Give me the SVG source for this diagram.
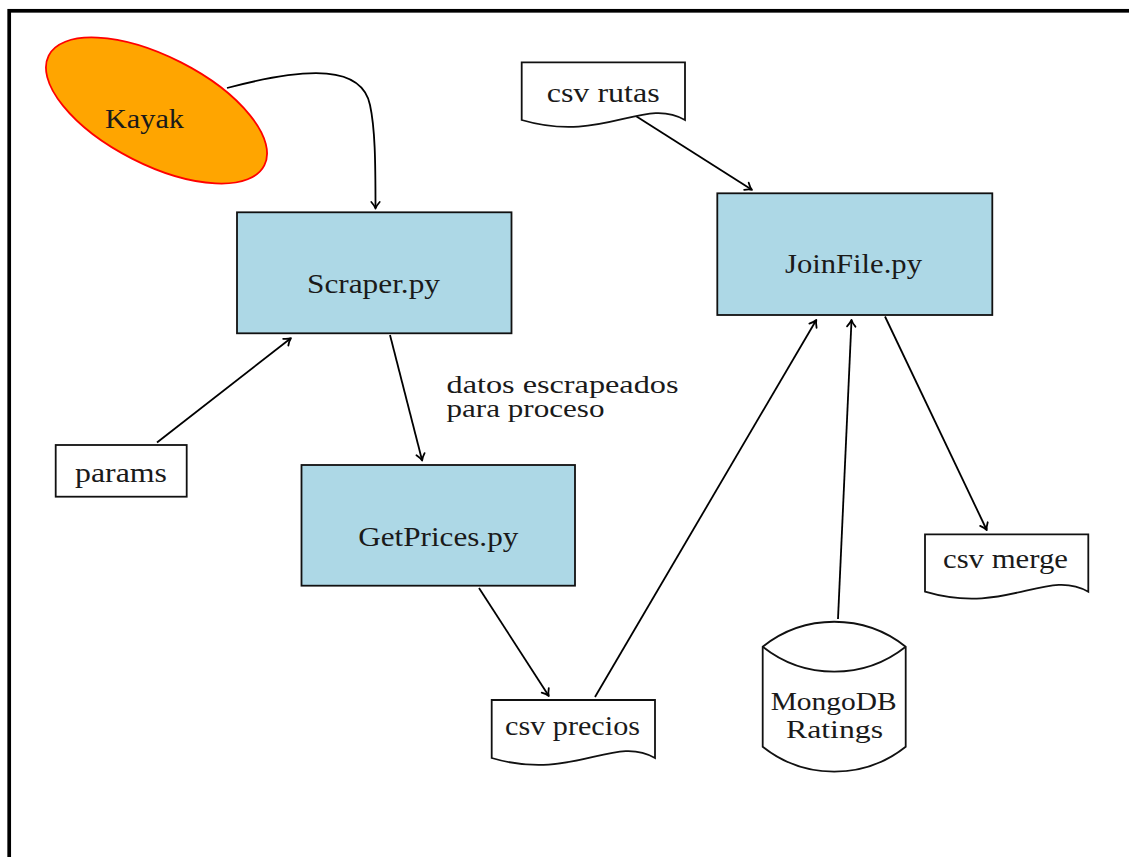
<svg xmlns="http://www.w3.org/2000/svg" width="1129" height="857" viewBox="0 0 1129 857">
  <style>
    .lbl { font-family: "Liberation Serif", "DejaVu Serif", serif; font-size: 28px; fill: #1a1a1a; }
    .lbl2 { font-size: 26px; }
    .proc { fill: #ADD8E6; stroke: #111; stroke-width: 1.8; }
    .doc { fill: #fff; stroke: #111; stroke-width: 1.8; stroke-linejoin: miter; }
    .edge { fill: none; stroke: #000; stroke-width: 1.8; marker-end: url(#arrow); }
  </style>
  <defs>
    <marker id="arrow" markerUnits="userSpaceOnUse" markerWidth="14" markerHeight="14" refX="0" refY="0" viewBox="-8 -7 10 14" orient="auto" overflow="visible">
      <path d="M -6,-4.2 Q -2.2,-0.8 0.6,0 Q -2.2,0.8 -6,4.2" fill="none" stroke="#000" stroke-width="1.8" stroke-linecap="round" stroke-linejoin="round"/>
    </marker>
  </defs>

  <rect width="1129" height="857" fill="#fff"/>
  <!-- outer frame -->
  <rect x="9.2" y="10.8" width="1300" height="1000" fill="none" stroke="#000" stroke-width="3.7"/>

  <!-- connectors -->
  <g id="connectors">
    <path class="edge" d="M227,88 C310,66 362,66 370,105 C375,128 375.5,160 375.5,208"/>
    <path class="edge" d="M157,442.5 L290.5,338.5"/>
    <path class="edge" d="M390,335 L422,460"/>
    <path class="edge" d="M479,588 L548.5,695.5"/>
    <path class="edge" d="M595,697 L816,320.5"/>
    <path class="edge" d="M838,619 L851.5,320.5"/>
    <path class="edge" d="M885,316.5 L986.5,529.5"/>
    <path class="edge" d="M635,115.5 L751.5,189.5"/>
    <text class="lbl lbl2" x="446.5" y="393" textLength="232" lengthAdjust="spacingAndGlyphs">datos escrapeados</text>
    <text class="lbl lbl2" x="446.5" y="417" textLength="158" lengthAdjust="spacingAndGlyphs">para proceso</text>
  </g>

  <g id="kayak">
    <ellipse cx="156.5" cy="110.5" rx="121" ry="54" transform="rotate(27 156.5 110.5)" fill="#FFA500" stroke="#FF0000" stroke-width="1.8"/>
    <text class="lbl" x="105" y="127.7" textLength="79" lengthAdjust="spacingAndGlyphs">Kayak</text>
  </g>

  <g id="scraper">
    <rect class="proc" x="237" y="212.3" width="274.5" height="121"/>
    <text class="lbl" x="307" y="292.7" textLength="133" lengthAdjust="spacingAndGlyphs">Scraper.py</text>
  </g>

  <g id="getprices">
    <rect class="proc" x="301.5" y="465" width="273.5" height="120.7"/>
    <text class="lbl" x="358.3" y="545.7" textLength="160" lengthAdjust="spacingAndGlyphs">GetPrices.py</text>
  </g>

  <g id="joinfile">
    <rect class="proc" x="717.3" y="193.3" width="275" height="121.7"/>
    <text class="lbl" x="785" y="273.3" textLength="137" lengthAdjust="spacingAndGlyphs">JoinFile.py</text>
  </g>

  <g id="params">
    <rect class="doc" x="55.7" y="445" width="131" height="51.7"/>
    <text class="lbl" x="75" y="481.7" textLength="92" lengthAdjust="spacingAndGlyphs">params</text>
  </g>

  <g id="csv-rutas">
    <path class="doc" d="M521.7,62.3 H685 V120 C644,96 603,144 521.7,120 Z"/>
    <text class="lbl" x="546.7" y="101.7" textLength="113" lengthAdjust="spacingAndGlyphs">csv rutas</text>
  </g>

  <g id="csv-precios">
    <path class="doc" d="M491.7,700 H655 V758 C614,734 573,782 491.7,758 Z"/>
    <text class="lbl" x="505" y="735" textLength="135" lengthAdjust="spacingAndGlyphs">csv precios</text>
  </g>

  <g id="csv-merge">
    <path class="doc" d="M925,534.3 H1088.3 V591.7 C1047,567.7 1006,615.7 925,591.7 Z"/>
    <text class="lbl" x="943" y="568.3" textLength="125" lengthAdjust="spacingAndGlyphs">csv merge</text>
  </g>

  <g id="mongodb">
    <path class="doc" d="M762.7,646.7 A115,115 0 0 1 905.7,646.7 V746.7 A115,115 0 0 1 762.7,746.7 Z"/>
    <path d="M762.7,646.7 A115,115 0 0 0 905.7,646.7" fill="none" stroke="#111" stroke-width="1.8"/>
    <text class="lbl lbl2" x="770.7" y="709.5" textLength="126" lengthAdjust="spacingAndGlyphs">MongoDB</text>
    <text class="lbl lbl2" x="786" y="738" textLength="97" lengthAdjust="spacingAndGlyphs">Ratings</text>
  </g>
</svg>
